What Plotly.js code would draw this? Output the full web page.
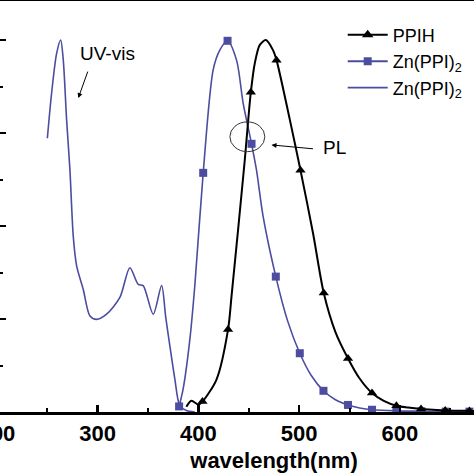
<!DOCTYPE html>
<html>
<head>
<meta charset="utf-8">
<script src="https://cdn.plot.ly/plotly-3.0.1.min.js"></script>
<style>
html, body { margin: 0; padding: 0; width: 474px; height: 474px; overflow: hidden; background: #fff; }
#chart { position: absolute; left: -120px; top: 0; width: 720px; height: 474px; }
</style>
</head>
<body>
<div id="chart"></div>
<script>
// UV-vis absorption of Zn(PPI)2 (normalized)
const uvWavelength = [250, 254.2, 259.2, 263.2, 265.8, 269.1, 272.4, 275.7, 279.1, 285.6, 292.3, 298.9, 308.8, 322, 331.9, 340.2, 345.1, 355.1, 363.4, 367.5, 371.6, 376.6, 381.5, 388, 396.4];
const uvIntensity  = [0.736, 0.857, 0.964, 1.0, 0.946, 0.786, 0.651, 0.473, 0.392, 0.33, 0.258, 0.249, 0.263, 0.308, 0.388, 0.343, 0.34, 0.263, 0.34, 0.255, 0.178, 0.088, 0.017, 0.004, 0];

// PL of Zn(PPI)2 (line) and its marked points
const znWavelength = [380.8, 384.8, 391.5, 396.4, 404.7, 414.6, 421.2, 428.9, 437.8, 444.4, 452.7, 457.6, 464.2, 476.8, 488.5, 500.6, 512, 524.1, 536, 548.5, 560, 572.3, 596.5, 621.3, 645.4, 669, 700];
const znIntensity  = [0.015, 0.062, 0.196, 0.34, 0.643, 0.92, 0.973, 0.998, 0.946, 0.83, 0.721, 0.651, 0.526, 0.364, 0.245, 0.158, 0.098, 0.057, 0.033, 0.019, 0.011, 0.006, 0.003, 0.002, 0.001, 0.001, 0.001];
const znMarkWavelength = [380.8, 404.7, 428.9, 452.7, 476.8, 500.6, 524.1, 548.5, 572.3, 596.5, 621.3, 645.4, 669];
const znMarkIntensity  = [0.015, 0.643, 0.998, 0.721, 0.364, 0.158, 0.057, 0.019, 0.006, 0.003, 0.002, 0.001, 0.001];

// PL of PPIH (line) and its marked points
const ppihWavelength = [388, 393, 400, 404, 418, 429.4, 432.8, 446, 449.4, 452, 455.9, 460.9, 466.9, 474, 477.5, 490.7, 501.3, 513.8, 524.4, 536, 548.5, 560, 572.3, 584, 596.5, 608, 621, 645, 669, 700];
const ppihIntensity  = [0.014, 0.03, 0.02, 0.028, 0.088, 0.222, 0.31, 0.678, 0.785, 0.86, 0.937, 0.987, 1.0, 0.973, 0.946, 0.786, 0.65, 0.48, 0.32, 0.215, 0.144, 0.09, 0.051, 0.03, 0.017, 0.012, 0.008, 0.004, 0.003, 0.003];
const ppihMarkWavelength = [404, 429.4, 452, 477.5, 501.3, 524.4, 548.5, 572.3, 596.5, 621, 645, 669];
const ppihMarkIntensity  = [0.028, 0.222, 0.86, 0.946, 0.65, 0.32, 0.144, 0.051, 0.017, 0.008, 0.004, 0.003];

const legendNames = ['PPIH', 'Zn(PPI)<sub>2</sub>', 'Zn(PPI)<sub>2</sub>'];

const BLUE = '#4c4ca0';
const BLACK = '#000000';
const FONT = 'Liberation Sans, Arial, sans-serif';

const traces = [
  { x: uvWavelength, y: uvIntensity, mode: 'lines', line: {color: BLUE, width: 1.6, shape: 'spline', smoothing: 0.8}, showlegend: false, hoverinfo: 'skip' },
  { x: znWavelength, y: znIntensity, mode: 'lines', line: {color: BLUE, width: 1.6, shape: 'spline', smoothing: 0.8}, showlegend: false, hoverinfo: 'skip' },
  { x: znMarkWavelength, y: znMarkIntensity, mode: 'markers', marker: {symbol: 'square', size: 8, color: BLUE}, showlegend: false },
  { x: ppihWavelength, y: ppihIntensity, mode: 'lines', line: {color: BLACK, width: 2, shape: 'spline', smoothing: 0.8}, showlegend: false, hoverinfo: 'skip' },
  { x: ppihMarkWavelength, y: ppihMarkIntensity, mode: 'markers', marker: {symbol: 'triangle-up', size: 9, color: BLACK}, showlegend: false },
  // legend entries
  { x: [null], y: [null], name: legendNames[0], mode: 'lines+markers', line: {color: BLACK, width: 2}, marker: {symbol: 'triangle-up', size: 10, color: BLACK} },
  { x: [null], y: [null], name: legendNames[1], mode: 'lines+markers', line: {color: BLUE, width: 2}, marker: {symbol: 'square', size: 8, color: BLUE} },
  { x: [null], y: [null], name: legendNames[2], mode: 'lines', line: {color: BLUE, width: 1.6} }
];

const layout = {
  width: 720, height: 474,
  margin: {l: 117, r: 49, t: 1, b: 62},
  paper_bgcolor: '#ffffff', plot_bgcolor: '#ffffff',
  font: {family: FONT, color: '#000'},
  showlegend: true,
  legend: {
    x: 0.624, y: 0.962, xanchor: 'left', yanchor: 'top',
    bgcolor: 'rgba(0,0,0,0)', borderwidth: 0,
    font: {family: FONT, size: 18, color: '#000'},
    itemwidth: 40, tracegroupgap: 0
  },
  xaxis: {
    range: [200, 750], dtick: 100, tick0: 0,
    ticks: 'inside', ticklen: 7, tickwidth: 2.5, tickcolor: '#000',
    minor: {dtick: 50, ticks: 'inside', ticklen: 4, tickwidth: 2, tickcolor: '#000'},
    showline: true, linewidth: 3, linecolor: '#000', mirror: true,
    showgrid: false, zeroline: false,
    tickfont: {family: FONT, size: 22, weight: 'bold', color: '#000'},
    title: {text: 'wavelength(nm)', font: {family: FONT, size: 22, weight: 'bold', color: '#000'}, standoff: 8}
  },
  yaxis: {
    range: [0, 1.105], dtick: 0.25, tick0: 0,
    ticks: 'inside', ticklen: 9, tickwidth: 2.5, tickcolor: '#000',
    minor: {dtick: 0.125, ticks: 'inside', ticklen: 6, tickwidth: 2, tickcolor: '#000'},
    showline: true, linewidth: 3, linecolor: '#000', mirror: true,
    showgrid: false, zeroline: false, showticklabels: false
  },
  shapes: [
    {type: 'circle', xref: 'x', yref: 'y', x0: 431.2, x1: 465.9, y0: 0.70, y1: 0.78, line: {color: '#333', width: 1}}
  ],
  annotations: [
    {x: 310, y: 0.965, xref: 'x', yref: 'y', text: 'UV-vis', showarrow: false, font: {family: FONT, size: 19, color: '#000'}},
    {x: 280.7, y: 0.844, xref: 'x', yref: 'y', text: '', showarrow: true, ax: 10, ay: -28, arrowhead: 2, arrowsize: 1, arrowwidth: 1, arrowcolor: '#000'},
    {x: 521.4, y: 0.71, xref: 'x', yref: 'y', text: 'PL', showarrow: false, xanchor: 'left', font: {family: FONT, size: 19, color: '#000'}},
    {x: 472.5, y: 0.718, xref: 'x', yref: 'y', text: '', showarrow: true, ax: 43, ay: 4, arrowhead: 2, arrowsize: 1, arrowwidth: 1, arrowcolor: '#000'}
  ]
};

Plotly.newPlot('chart', traces, layout, {staticPlot: true, displayModeBar: false});
</script>
</body>
</html>
